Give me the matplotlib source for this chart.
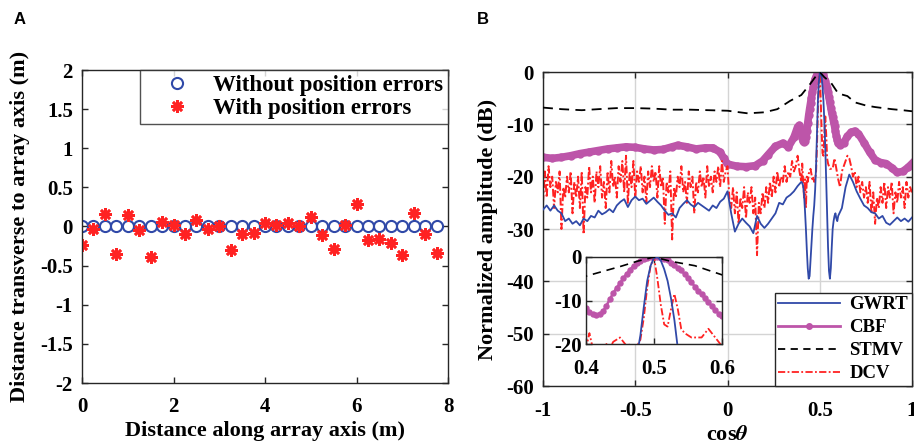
import numpy as np
import matplotlib
matplotlib.use("Agg")
import matplotlib.pyplot as plt
from matplotlib.lines import Line2D

plt.rcParams['font.family'] = 'Liberation Serif'
plt.rcParams['font.weight'] = 'bold'
plt.rcParams['axes.labelweight'] = 'bold'
plt.rcParams['mathtext.fontset'] = 'stix'
plt.rcParams['axes.unicode_minus'] = False

# ---- panel A: element positions ----
pos_x = [0.25 * i for i in range(32)]
pos_err = [-0.235, -0.034, 0.162, -0.35, 0.15, -0.05, -0.385, 0.055, 0.02, -0.094,
           0.077, -0.034, 0.0, -0.30, -0.094, -0.085, 0.043, 0.02, 0.043, 0.0,
           0.12, -0.107, -0.29, 0.02, 0.29, -0.17, -0.162, -0.205, -0.363, 0.17,
           -0.094, -0.333]

# ---- panel B: beam patterns (dB) ----
gwrt_c = [-1.00, -0.98, -0.96, -0.94, -0.92, -0.90, -0.88, -0.86, -0.84, -0.82,
          -0.80, -0.78, -0.76, -0.74, -0.72, -0.70, -0.68, -0.66, -0.64, -0.62,
          -0.60, -0.58, -0.56, -0.54, -0.52, -0.50, -0.48, -0.46, -0.44, -0.42,
          -0.40, -0.38, -0.36, -0.34, -0.32, -0.30, -0.28, -0.26, -0.24, -0.22,
          -0.20, -0.18, -0.16, -0.14, -0.12, -0.10, -0.08, -0.06, -0.04, -0.02,
          0.00, 0.02, 0.04, 0.06, 0.08, 0.10, 0.12, 0.14, 0.16, 0.18,
          0.20, 0.22, 0.24, 0.26, 0.28, 0.30, 0.32, 0.34, 0.36, 0.38, 0.40,
          0.405, 0.41, 0.415, 0.42, 0.425, 0.43, 0.435, 0.44, 0.445, 0.45,
          0.455, 0.46, 0.465, 0.47, 0.475, 0.48, 0.485, 0.49, 0.495, 0.50,
          0.505, 0.51, 0.515, 0.52, 0.525, 0.53, 0.535, 0.54, 0.545, 0.55,
          0.555, 0.56, 0.565, 0.57, 0.575, 0.58, 0.585, 0.59, 0.595, 0.60,
          0.62, 0.64, 0.66, 0.68, 0.70, 0.72, 0.74, 0.76, 0.78, 0.80,
          0.82, 0.84, 0.86, 0.88, 0.90, 0.92, 0.94, 0.96, 0.98, 1.00]
gwrt = [-26.3, -25.5, -26.5, -25.5, -26.5, -27.0, -28.5, -28.0, -29.0, -28.5,
        -29.3, -28.0, -28.5, -27.5, -27.8, -26.5, -27.2, -26.8, -26.2, -26.8,
        -25.5, -24.8, -24.3, -25.8, -24.5, -23.8, -24.5, -24.2, -25.2, -24.6,
        -24.0, -24.8, -25.5, -26.5, -27.3, -27.0, -27.8, -26.0, -25.2, -24.5,
        -25.3, -25.8, -25.0, -25.5, -26.0, -26.5, -25.5, -26.0, -24.8, -24.2,
        -22.8, -27.0, -30.5, -29.0, -28.0, -28.8, -29.5, -30.8, -27.5, -29.0,
        -29.8, -29.0, -28.0, -27.0, -25.0, -25.3, -24.0, -23.5, -22.8, -21.8, -21.0,
        -21.2, -21.8, -23.5, -26.5, -30.0, -34.0, -37.5, -39.5, -39.0, -36.0,
        -33.0, -30.0, -27.5, -25.5, -22.5, -18.0, -11.5, -5.5, -2.0, -0.2,
        0.0, -0.8, -2.8, -5.5, -9.5, -14.5, -21.0, -27.5, -33.5, -38.0,
        -39.5, -37.5, -33.5, -30.0, -28.5, -27.5, -27.0, -28.0, -28.5, -27.5,
        -26.0, -22.0, -19.6, -21.0, -22.8, -24.2, -25.5, -26.0, -26.8, -27.0,
        -28.0, -27.5, -28.8, -29.2, -28.5, -27.8, -28.5, -28.0, -28.6, -27.8]

cbf_c = [-1.00, -0.95, -0.90, -0.85, -0.80, -0.75, -0.70, -0.65, -0.60, -0.55,
         -0.50, -0.45, -0.40, -0.35, -0.30, -0.27, -0.22, -0.17, -0.12, -0.08,
         -0.04, -0.02, 0.00, 0.05, 0.10, 0.15, 0.19, 0.22, 0.26, 0.30,
         0.33, 0.36, 0.38, 0.39,
         0.400, 0.405, 0.410, 0.415, 0.420, 0.425, 0.430, 0.435, 0.440, 0.445,
         0.450, 0.455, 0.460, 0.465, 0.470, 0.475, 0.480, 0.485, 0.490, 0.495,
         0.500, 0.505, 0.510, 0.515, 0.520, 0.525, 0.530, 0.535, 0.540, 0.545,
         0.550, 0.555, 0.560, 0.565, 0.570, 0.575, 0.580, 0.585, 0.590, 0.595,
         0.600, 0.61, 0.63, 0.65, 0.67, 0.69, 0.71, 0.74, 0.77, 0.80,
         0.83, 0.86, 0.89, 0.92, 0.95, 0.98, 1.00]
cbf = [-16.3, -16.5, -16.3, -16.0, -15.6, -15.3, -15.0, -14.7, -14.5, -14.3,
       -14.4, -14.7, -14.9, -14.8, -14.3, -14.0, -14.3, -14.7, -14.5, -14.5,
       -15.3, -16.5, -17.6, -18.0, -18.1, -17.9, -17.0, -15.8, -14.2, -13.6,
       -14.3, -12.5, -10.5, -10.2,
       -11.7, -12.6, -13.2, -13.3, -13.1, -12.5, -11.2, -9.7, -8.3, -7.1,
       -6.0, -4.9, -3.8, -2.9, -2.0, -1.4, -0.9, -0.5, -0.2, -0.05,
       0.0, -0.05, -0.2, -0.4, -0.8, -1.3, -1.8, -2.5, -3.1, -3.9,
       -4.8, -5.8, -6.8, -7.8, -8.6, -9.5, -10.3, -11.3, -12.2, -13.0,
       -13.6, -13.9, -13.5, -12.3, -11.5, -11.3, -11.8, -13.5, -15.3, -16.8,
       -17.3, -17.5, -18.3, -19.2, -19.0, -18.2, -17.5]

stmv_c = [-1.0, -0.9, -0.79, -0.7, -0.6, -0.5, -0.4, -0.3, -0.25, -0.2, -0.1,
          0.0, 0.11, 0.2, 0.27, 0.34, 0.4, 0.45, 0.475, 0.5, 0.525, 0.56,
          0.6, 0.65, 0.69, 0.75, 0.8, 0.89, 0.95, 1.0]
stmv = [-6.8, -7.1, -7.3, -7.1, -6.9, -6.9, -7.0, -7.2, -7.2, -7.2, -7.3,
        -7.4, -7.9, -7.7, -7.1, -5.5, -4.4, -2.2, -1.0, 0.0, -1.0, -2.0,
        -4.1, -4.6, -5.8, -6.4, -6.7, -7.1, -7.3, -7.5]

dcv_c = ([round(-1.0 + 0.01 * i, 3) for i in range(140)]
         + [round(0.40 + 0.005 * i, 3) for i in range(41)]
         + [round(0.61 + 0.01 * i, 3) for i in range(40)])
dcv = [-25, -19, -24, -18, -22, -20, -26, -21, -23, -19, -30, -22, -24, -20, -23, -19, -27, -21, -24, -20,
       -26, -19, -31, -22, -24, -18, -23, -20, -25, -19, -22, -18, -24, -21, -26, -19, -23, -17, -22, -20,
       -24, -18, -21, -17, -23, -16, -25, -19, -22, -17, -24, -19, -21, -18, -23, -20, -25, -19, -22, -18,
       -21, -19, -24, -18, -22, -20, -29, -21, -23, -19, -32, -22, -24, -20, -22, -18, -23, -21, -25, -19,
       -22, -20, -27, -21, -23, -19, -22, -20, -24, -18, -22, -20, -23, -19, -21, -18, -22, -17, -21, -19,
       -18, -24, -26, -22, -27, -23, -29, -24, -26, -22, -28, -23, -25, -22, -27, -24, -35, -25, -27, -23,
       -26, -22, -25, -21, -24, -20, -23, -19, -22, -20, -21, -18, -21, -19, -20, -17, -19, -18, -16, -19,
       -21, -17.5, -21, -24, -20.5, -26, -20, -21, -19.5, -19, -18.5, -19.5, -20.5, -20, -21, -20.5,
       -19, -14, -7, -2, 0, -5, -11, -15.5, -16, -12, -8.5, -12, -16.5, -17.5, -18, -18.5,
       -18.5, -18.5, -18.5, -17.5, -16.5, -17.5, -18.5, -19.5, -20.5,
       -22, -19, -18, -17, -16, -16.5, -18, -20, -19, -22, -20, -23, -21, -24, -22, -25, -21, -27, -23, -29,
       -24, -26, -22, -25, -21, -26, -22, -24, -21, -27, -23, -25, -21, -24, -22, -26, -21, -24, -22, -23]

blue = '#3049A8'
magenta = '#BD55A9'
red = '#FF2222'
axcol = '#262626'
dcv_dash = (4, 1.3, 1, 1.3)

fig = plt.figure(figsize=(9.14, 4.48), dpi=100)


def style(ax, xt, yt, xl, yl, fs=15, xpad=10, ypad=6.5):
    for s in ax.spines.values():
        s.set_color(axcol)
        s.set_linewidth(1.0)
    ax.set_xticks(xt)
    ax.set_xticklabels(xl, fontsize=fs, fontweight='bold')
    ax.set_yticks(yt)
    ax.set_yticklabels(yl, fontsize=fs, fontweight='bold')
    ax.tick_params(direction='in', top=True, right=True,
                   color=axcol, length=4, width=1.0)
    ax.tick_params(axis='x', pad=xpad)
    ax.tick_params(axis='y', pad=ypad)


# panel A
ax1 = fig.add_axes([82 / 914, 1 - 383 / 448, 366 / 914, 313 / 448])
ax1.plot(pos_x, [0] * len(pos_x), 'o', ls='none', mfc='none', mec=blue,
         mew=1.5, ms=8, label='Without position errors')
ax1.plot(pos_x, pos_err, marker=(8, 2, 0), ls='none', color=red, mec=red,
         mew=1.9, ms=9, label='With position errors')
ax1.set_xlim(0, 8)
ax1.set_ylim(-2, 2)
style(ax1, [0, 2, 4, 6, 8], [2, 1.5, 1, 0.5, 0, -0.5, -1, -1.5, -2],
      ['0', '2', '4', '6', '8'],
      ['2', '1.5', '1', '0.5', '0', '-0.5', '-1', '-1.5', '-2'])
ax1.set_xlabel('Distance along array axis (m)', fontsize=16, labelpad=3)
ax1.set_ylabel('Distance transverse to array axis (m)', fontsize=16, labelpad=7)
leg1 = ax1.legend(loc='upper right', prop={'size': 16.5, 'weight': 'bold'},
                  frameon=True, fancybox=False, borderaxespad=0,
                  handletextpad=0.2, borderpad=0.2, labelspacing=0.1,
                  handlelength=2.8)
leg1.get_frame().set_edgecolor(axcol)
leg1.get_frame().set_linewidth(1.0)

# panel B
ax2 = fig.add_axes([543 / 914, 1 - 386 / 448, 369 / 914, 314 / 448])
ax2.grid(True, color='#d4d4d4', lw=1.0)
ax2.set_axisbelow(True)
ax2.plot(gwrt_c, gwrt, color=blue, lw=1.3, zorder=3)
ax2.plot(cbf_c, cbf, color=magenta, lw=5.5, marker='o', ms=5, zorder=2)
ax2.plot(stmv_c, stmv, color='k', lw=1.3, dashes=(5.5, 3.5), zorder=4)
ax2.plot(dcv_c, dcv, color=red, lw=1.4, dashes=dcv_dash, zorder=2.5)
ax2.set_xlim(-1, 1)
ax2.set_ylim(-60, 0)
style(ax2, [-1, -0.5, 0, 0.5, 1], [0, -10, -20, -30, -40, -50, -60],
      ['-1', '-0.5', '0', '0.5', '1'],
      ['0', '-10', '-20', '-30', '-40', '-50', '-60'], xpad=11)
ax2.set_xlabel(r'cos$\mathit{\theta}$', fontsize=16, labelpad=3)
ax2.set_ylabel('Normalized amplitude (dB)', fontsize=16, labelpad=6)
handles = [Line2D([], [], color=blue, lw=1.3),
           Line2D([], [], color=magenta, lw=2, marker='o', ms=4),
           Line2D([], [], color='k', lw=1.3, dashes=(4, 3)),
           Line2D([], [], color=red, lw=1.3, dashes=dcv_dash)]
leg2 = ax2.legend(handles, ['GWRT', 'CBF', 'STMV', 'DCV'], loc='lower right',
                  prop={'size': 13.5, 'weight': 'bold'}, frameon=True,
                  fancybox=False, borderaxespad=0, handlelength=3.3,
                  handletextpad=0.5, borderpad=0.2, labelspacing=0.31,
                  framealpha=1)
leg2.get_frame().set_edgecolor(axcol)
leg2.get_frame().set_linewidth(1.0)

# inset
ax3 = fig.add_axes([586 / 914, 1 - 344 / 448, 136 / 914, 87 / 448])
ax3.grid(True, color='#d4d4d4', lw=1.0)
ax3.set_axisbelow(True)
ax3.plot(gwrt_c, gwrt, color=blue, lw=1.3, zorder=3)
ax3.plot(cbf_c, cbf, color=magenta, lw=1.8, marker='o', ms=3.6, zorder=2)
ax3.plot(stmv_c, stmv, color='k', lw=1.2, dashes=(5, 3.5), zorder=4)
ax3.plot(dcv_c, dcv, color=red, lw=1.3, dashes=dcv_dash, zorder=2.5)
ax3.set_xlim(0.4, 0.6)
ax3.set_ylim(-20, 0)
style(ax3, [0.4, 0.5, 0.6], [-20, -10, 0], ['0.4', '0.5', '0.6'],
      ['-20', '-10', '0'], xpad=11, ypad=3)

fig.text(20 / 914, 1 - 19 / 448, 'A', family='Liberation Sans', weight='bold',
         fontsize=12, ha='center', va='center')
fig.text(483 / 914, 1 - 19 / 448, 'B', family='Liberation Sans', weight='bold',
         fontsize=12, ha='center', va='center')

fig.savefig('out.png', dpi=100)
